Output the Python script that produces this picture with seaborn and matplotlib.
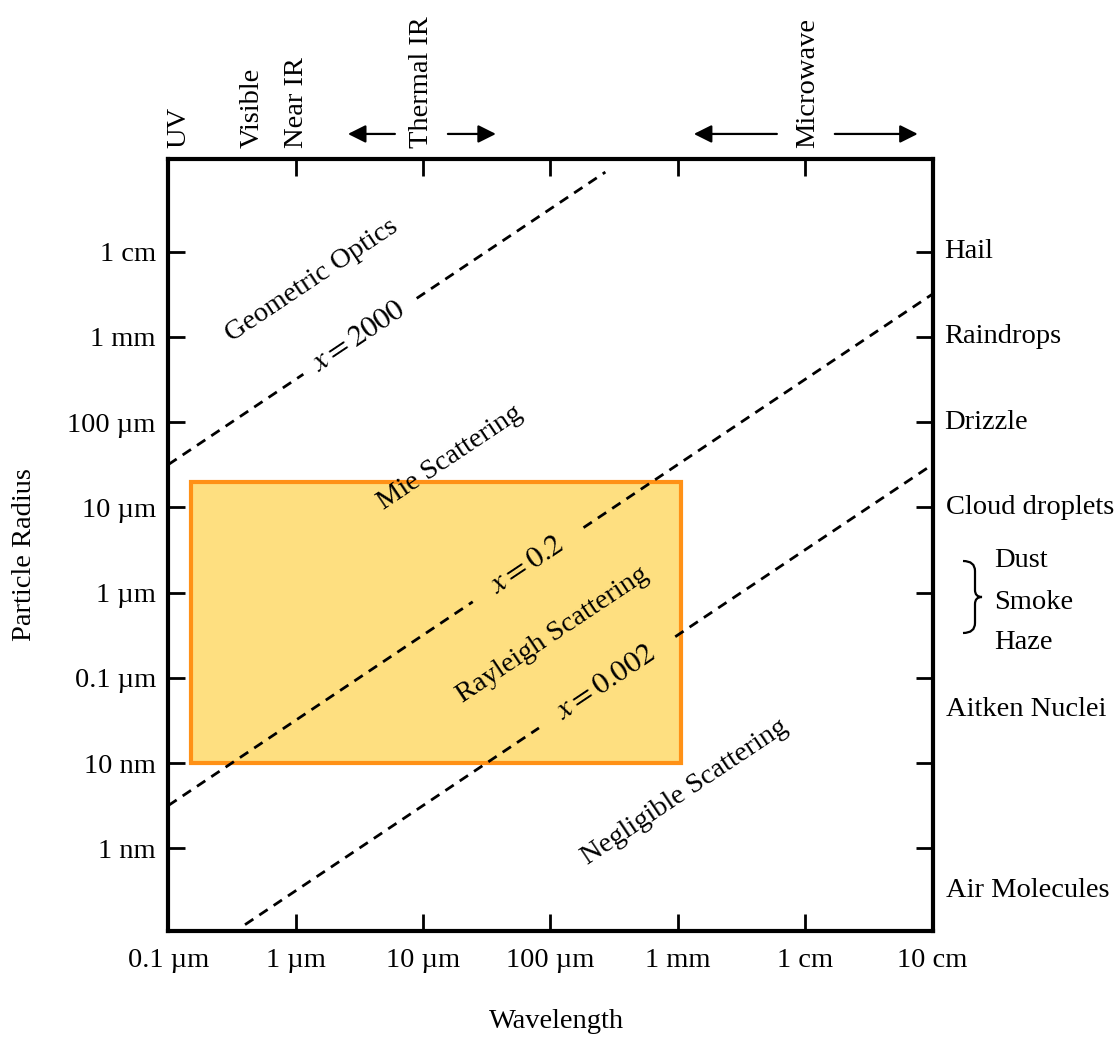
import numpy as np
import pandas as pd
import matplotlib
matplotlib.use("Agg")
import matplotlib.pyplot as plt
import matplotlib.transforms as mtransforms
from matplotlib.patches import Rectangle, PathPatch
from matplotlib.path import Path
import seaborn as sns

# ---------------- data ----------------
x_ticks = [1e-7, 1e-6, 1e-5, 1e-4, 1e-3, 1e-2, 1e-1]
x_ticklabels = ["0.1 µm", "1 µm", "10 µm", "100 µm", "1 mm", "1 cm", "10 cm"]
y_ticks = [1e-9, 1e-8, 1e-7, 1e-6, 1e-5, 1e-4, 1e-3, 1e-2]
y_ticklabels = ["1 nm", "10 nm", "0.1 µm", "1 µm", "10 µm", "100 µm", "1 mm", "1 cm"]
xlim = (1e-7, 1e-1)
ylim = (10 ** -9.97, 10 ** -0.918)

# size parameter x = 2*pi*r / lambda
size_params = [2000, 0.2, 0.002]
size_labels = [r"$x = 2000$", r"$x = 0.2$", r"$x = 0.002$"]
# wavelength segments (m) of each dashed line (gap leaves room for its label)
size_segments = [
    [(1e-7, 10 ** -5.94), (10 ** -5.05, 2.7e-4)],
    [(1e-7, 10 ** -4.61), (10 ** -3.74, 1e-1)],
    [(4e-7, 10 ** -4.09), (10 ** -3.02, 1e-1)],
]
size_label_wl = [10 ** -5.50, 10 ** -4.18, 10 ** -3.56]

regime_labels = ["Geometric Optics", "Mie Scattering", "Rayleigh Scattering", "Negligible Scattering"]
regime_wl = [10 ** -5.872, 10 ** -4.789, 10 ** -3.980, 10 ** -2.944]
regime_r = [10 ** -2.344, 10 ** -4.420, 10 ** -6.497, 10 ** -8.339]

box_wl = (1.5e-7, 1.06e-3)
box_r = (1e-8, 2e-5)

particle_labels = ["Hail", "Raindrops", "Drizzle", "Cloud droplets", "Dust", "Smoke", "Haze",
                   "Aitken Nuclei", "Air Molecules"]
particle_r = [1e-2, 1e-3, 1e-4, 1e-5, 10 ** -5.617, 10 ** -6.110, 10 ** -6.579,
              10 ** -7.365, 10 ** -9.489]

band_labels = ["UV", "Visible", "Near IR", "Thermal IR", "Microwave"]
band_wl = [10 ** -6.917, 10 ** -6.34, 10 ** -5.995, 10 ** -5.013, 10 ** -1.98]
# band arrows: (tail, tip) wavelengths
band_arrows = [(10 ** -5.221, 10 ** -5.590), (10 ** -4.805, 10 ** -4.428),
               (10 ** -2.222, 10 ** -2.874), (10 ** -1.767, 10 ** -1.116)]

# ---------------- style ----------------
sns.set_theme(style="white")
plt.rcParams["font.family"] = ["Liberation Serif", "DejaVu Serif"]
plt.rcParams["mathtext.fontset"] = "stix"
plt.rcParams["text.color"] = "black"
plt.rcParams["axes.labelcolor"] = "black"
plt.rcParams["xtick.color"] = "black"
plt.rcParams["ytick.color"] = "black"

FS = 20.5
fig = plt.figure(figsize=(11.2, 10.39), dpi=100)
ax = fig.add_axes([0.1503, 0.1039, 0.8326 - 0.1503, 0.8465 - 0.1039])
ax.set_xscale("log")
ax.set_yscale("log")

# region box
ax.add_patch(Rectangle((box_wl[0], box_r[0]), box_wl[1] - box_wl[0], box_r[1] - box_r[0],
                       facecolor="#FEDF80", edgecolor="#FF9116", lw=3, zorder=1))

# dashed size-parameter lines
rows = []
for k, (xs, segs) in enumerate(zip(size_params, size_segments)):
    for j, (a, b) in enumerate(segs):
        for wl in (a, b):
            rows.append({"wl": wl, "r": xs * wl / (2 * np.pi), "seg": f"{k}-{j}"})
df = pd.DataFrame(rows)
sns.lineplot(data=df, x="wl", y="r", units="seg", estimator=None, sort=False,
             color="black", lw=2.0, linestyle=(0, (3.6, 2.6)), ax=ax, zorder=2)

ax.set_xlim(*xlim)
ax.set_ylim(*ylim)

# angle of slope-1 line in display space
fig.canvas.draw()
p0 = ax.transData.transform((1e-6, 1e-6))
p1 = ax.transData.transform((1e-5, 1e-5))
ang = np.degrees(np.arctan2(p1[1] - p0[1], p1[0] - p0[0]))

for xs, lab, wl in zip(size_params, size_labels, size_label_wl):
    ax.text(wl, xs * wl / (2 * np.pi), lab, rotation=ang, rotation_mode="anchor",
            ha="center", va="center", fontsize=FS + 1.5, zorder=3)
for lab, wl, r in zip(regime_labels, regime_wl, regime_r):
    ax.text(wl, r, lab, rotation=ang, rotation_mode="anchor",
            ha="center", va="center", fontsize=FS, zorder=3)

# ticks
ax.set_xticks(x_ticks)
ax.set_xticklabels(x_ticklabels)
ax.set_yticks(y_ticks)
ax.set_yticklabels(y_ticklabels)
ax.minorticks_off()
ax.tick_params(which="major", direction="in", length=12.5, width=2,
               bottom=True, top=True, left=True, right=True,
               labelbottom=True, labelleft=True, labeltop=False, labelright=False,
               labelsize=FS)
ax.tick_params(axis="x", pad=12)
ax.tick_params(axis="y", pad=9)
for s in ax.spines.values():
    s.set_linewidth(3)
    s.set_color("black")
ax.set_xlabel("")
ax.set_ylabel("")

# axis titles
fig.text(557 / 1120, 1 - 1022 / 1039, "Wavelength", ha="center", va="center", fontsize=FS)
fig.text(25 / 1120, 1 - 555 / 1039, "Particle Radius", ha="center", va="center",
         rotation=90, fontsize=FS)

# right-side particle labels
bl = mtransforms.blended_transform_factory(ax.transAxes, ax.transData)
for lab, r in zip(particle_labels, particle_r):
    if lab in ("Dust", "Smoke", "Haze"):
        xf = 1.081
    elif lab in ("Hail", "Raindrops", "Drizzle"):
        xf = 1.015
    else:
        xf = 1.018
    ax.text(xf, r, lab, transform=bl, ha="left", va="center", fontsize=FS, clip_on=False)

# brace for Dust / Smoke / Haze
def fp(px, py):
    return (px / 1120, 1 - py / 1039)

verts = [fp(963, 561), fp(975, 561), fp(975, 571), fp(975, 590), fp(975, 597), fp(982, 597),
         fp(975, 597), fp(975, 604), fp(975, 623), fp(975, 633), fp(963, 633)]
codes = [Path.MOVETO, Path.CURVE3, Path.CURVE3, Path.LINETO, Path.CURVE3, Path.CURVE3,
         Path.CURVE3, Path.CURVE3, Path.LINETO, Path.CURVE3, Path.CURVE3]
fig.add_artist(PathPatch(Path(verts, codes), transform=fig.transFigure, facecolor="none",
                         edgecolor="black", lw=1.6))

# top band labels and arrows
tb = mtransforms.blended_transform_factory(ax.transData, ax.transAxes)
for lab, wl in zip(band_labels, band_wl):
    ax.text(wl, 1.0149, lab, transform=tb, rotation=90, ha="center", va="bottom",
            fontsize=FS, clip_on=False)
for tail, tip in band_arrows:
    ax.annotate("", xy=(tip, 1.0331), xytext=(tail, 1.0331), xycoords=tb, textcoords=tb,
                annotation_clip=False,
                arrowprops=dict(arrowstyle="-|>,head_length=0.4,head_width=0.2",
                                mutation_scale=27, lw=1.6, color="black",
                                shrinkA=0, shrinkB=0))

fig.savefig("out.png", dpi=100)
